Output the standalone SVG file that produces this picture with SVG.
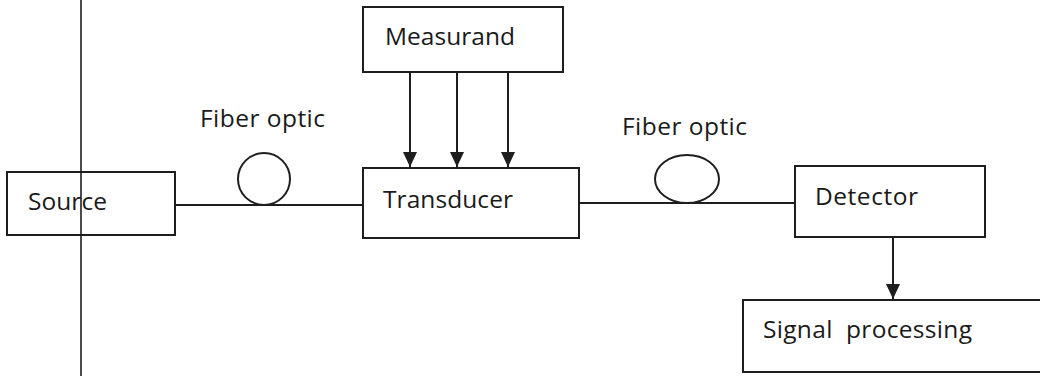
<svg xmlns="http://www.w3.org/2000/svg" width="1040" height="376" viewBox="0 0 1040 376">
<style>
.box{fill:#fff;stroke:#1e1e1e;stroke-width:2}
.ln{fill:none;stroke:#1e1e1e;stroke-width:2}
.lbl{font-family:"Open Sans","Noto Sans",sans-serif;font-size:24.5px;fill:#1a1a1a;white-space:pre}
</style>
<defs>
<marker id="arr" markerUnits="userSpaceOnUse" markerWidth="17" markerHeight="16" viewBox="0 0 17 16" refX="16" refY="8" orient="auto">
<path d="M1,1 L16,8 L1,15 Z" fill="#1e1e1e"/>
</marker>
</defs>
<rect width="1040" height="376" fill="#fff"/>
<g id="connectors">
<line class="ln" x1="175" y1="205" x2="363" y2="205"/>
<circle class="ln" cx="264" cy="179" r="26"/>
<line class="ln" x1="579" y1="203" x2="795" y2="203"/>
<ellipse class="ln" cx="687" cy="179" rx="32" ry="24"/>
<line class="ln" x1="410" y1="72" x2="410" y2="167" marker-end="url(#arr)"/>
<line class="ln" x1="457" y1="72" x2="457" y2="167" marker-end="url(#arr)"/>
<line class="ln" x1="508" y1="72" x2="508" y2="167" marker-end="url(#arr)"/>
<line class="ln" x1="893" y1="237" x2="893" y2="299" marker-end="url(#arr)"/>
</g>
<g id="source">
<rect class="box" x="7" y="172" width="168" height="63"/>
<text class="lbl" x="28" y="210" textLength="79" lengthAdjust="spacing">Source</text>
</g>
<g id="fiber1"><text class="lbl" x="200" y="127" textLength="125" lengthAdjust="spacing">Fiber optic</text></g>
<g id="measurand">
<rect class="box" x="363" y="7" width="200" height="65"/>
<text class="lbl" x="385" y="45" textLength="130" lengthAdjust="spacing">Measurand</text>
</g>
<g id="transducer">
<rect class="box" x="363" y="168" width="216" height="70"/>
<text class="lbl" x="383" y="208" textLength="130" lengthAdjust="spacing">Transducer</text>
</g>
<g id="fiber2"><text class="lbl" x="622" y="135" textLength="125" lengthAdjust="spacing">Fiber optic</text></g>
<g id="detector">
<rect class="box" x="795" y="166" width="190" height="71"/>
<text class="lbl" x="815" y="205" textLength="103" lengthAdjust="spacing">Detector</text>
</g>
<g id="signal">
<rect class="box" x="743" y="300" width="320" height="72"/>
<text class="lbl" x="763" y="338" xml:space="preserve" textLength="209" lengthAdjust="spacing">Signal  processing</text>
</g>
<line x1="81" y1="0" x2="81" y2="376" stroke="#1e1e1e" stroke-width="1.6"/>
</svg>
